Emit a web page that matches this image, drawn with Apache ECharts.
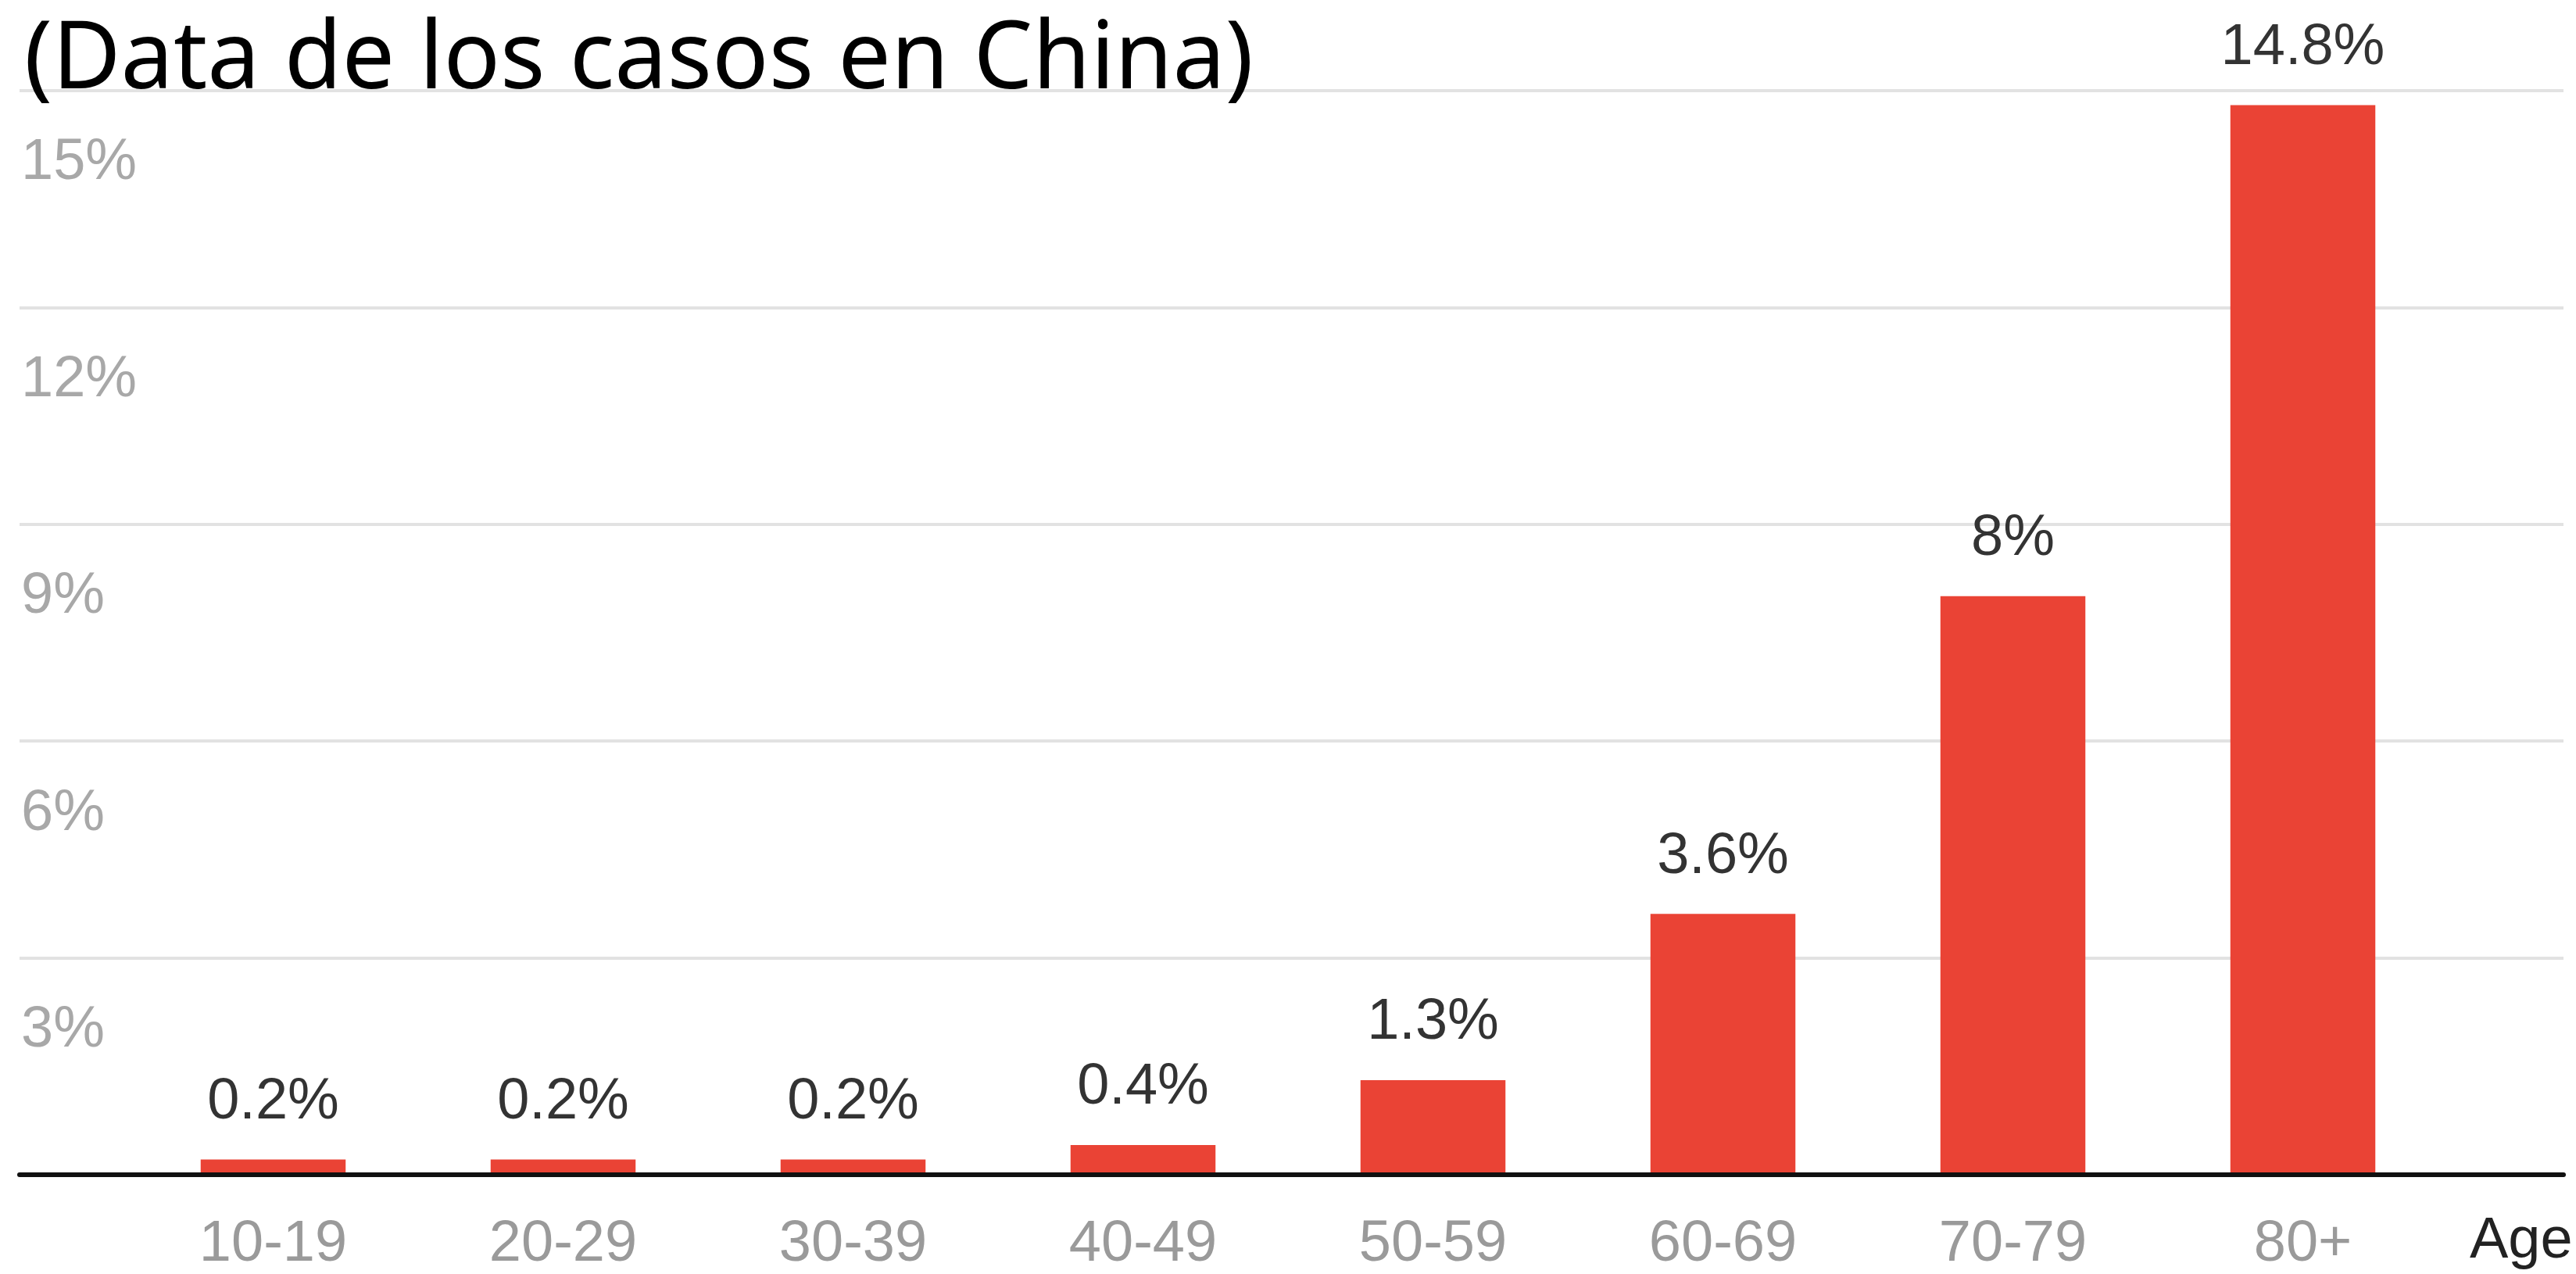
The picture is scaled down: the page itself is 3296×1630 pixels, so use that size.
<!DOCTYPE html>
<html>
<head>
<meta charset="utf-8">
<script src="https://cdn.jsdelivr.net/npm/echarts@6/dist/echarts.min.js"></script>
<style>
html,body{margin:0;padding:0;background:#fff;}
#chart{width:3296px;height:1630px;}
</style>
</head>
<body>
<div id="chart"></div>
<script>
const categories = ['10-19', '20-29', '30-39', '40-49', '50-59', '60-69', '70-79', '80+'];
const values = [0.2, 0.2, 0.2, 0.4, 1.3, 3.6, 8, 14.8];
const yMin = 0, yMax = 15, yStep = 3;
const titleText = '(Data de los casos en China)';
const xAxisName = 'Age';

const chart = echarts.init(document.getElementById('chart'), null, {renderer: 'canvas'});
const TOP = 116, BOTTOM = 127;
const labelFont = 'Liberation Sans, Arial, sans-serif';

chart.setOption({
  animation: false,
  backgroundColor: '#ffffff',
  title: {
    text: titleText,
    left: 26,
    top: 14,
    textStyle: {fontFamily: 'Noto Sans', fontWeight: 'normal', fontSize: 120, color: '#000'}
  },
  grid: [
    {left: 25, right: 16, top: TOP, bottom: BOTTOM},
    {left: 164, right: 164, top: TOP, bottom: BOTTOM}
  ],
  xAxis: [
    {gridIndex: 0, type: 'value', min: 0, max: 1, z: 10,
     axisLine: {show: true, onZero: false, lineStyle: {color: '#111', width: 6}},
     axisTick: {show: false}, axisLabel: {show: false}, splitLine: {show: false}},
    {gridIndex: 1, type: 'category', data: categories,
     axisLine: {show: false}, axisTick: {show: false},
     axisLabel: {color: '#9a9a9a', fontSize: 74, fontFamily: labelFont, margin: 54}}
  ],
  yAxis: [
    {gridIndex: 0, type: 'value', min: yMin, max: yMax, interval: yStep,
     axisLine: {show: false}, axisTick: {show: false},
     splitLine: {show: true, lineStyle: {color: '#e2e2e2', width: 4}},
     axisLabel: {inside: true, margin: 2, verticalAlign: 'top', padding: [56, 0, 0, 0],
                 color: '#a8a8a8', fontSize: 74, fontFamily: labelFont,
                 formatter: v => v === 0 ? '' : v + '%'}},
    {gridIndex: 1, type: 'value', min: yMin, max: yMax, interval: yStep, show: false}
  ],
  series: [{
    type: 'bar',
    xAxisIndex: 1, yAxisIndex: 1,
    data: values,
    barCategoryGap: '50%',
    itemStyle: {color: '#ea4335'},
    label: {show: true, position: 'top', distance: 36, color: '#333', fontSize: 74,
            fontFamily: labelFont, formatter: p => p.value + '%'}
  }],
  graphic: [{
    type: 'text', left: 3160, top: 1552,
    style: {text: xAxisName, fontSize: 74, fontFamily: labelFont, fill: '#222'}
  }]
});
</script>
</body>
</html>
